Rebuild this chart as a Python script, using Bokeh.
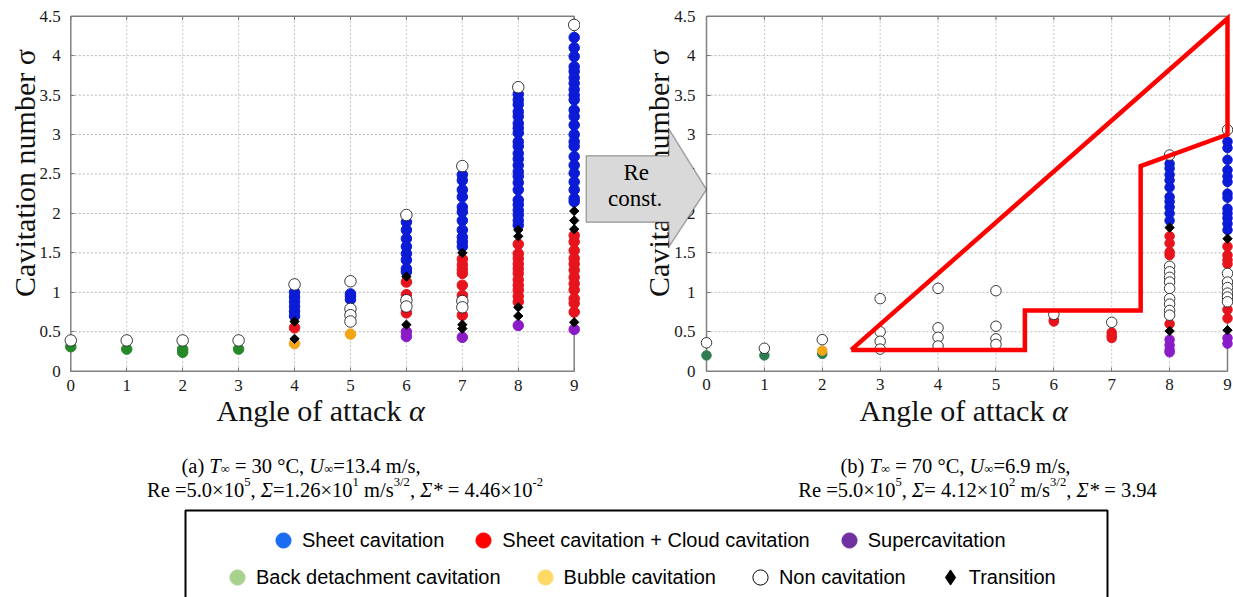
import numpy as np
from bokeh.plotting import figure
from bokeh.models import (Range1d, FixedTicker, Label, PolyAnnotation, Legend,
                          LegendItem, ColumnDataSource)
from bokeh.layouts import row, column
from bokeh.embed import file_html
from bokeh.resources import INLINE

# ---------------- data ----------------
ALPHA_TICKS = [0, 1, 2, 3, 4, 5, 6, 7, 8, 9]
SIGMA_TICKS = [0, 0.5, 1, 1.5, 2, 2.5, 3, 3.5, 4, 4.5]
SIGMA_LABELS = ["0", "0.5", "1", "1.5", "2", "2.5", "3", "3.5", "4", "4.5"]

# (a) T = 30 C  -- sigma values per angle of attack
A_NON = {0: [0.39], 1: [0.39], 2: [0.39], 3: [0.39], 4: [1.10],
         5: [1.14, 0.79, 0.71, 0.63], 6: [1.98, 0.90, 0.82],
         7: [2.60, 0.89, 0.81], 8: [3.60], 9: [4.39]}
A_BACK = {0: [0.31], 1: [0.28], 2: [0.28, 0.24], 3: [0.28]}
A_BUBBLE = {4: [0.35], 5: [0.47]}
A_SHEET = {4: [1.00, 0.94, 0.88, 0.82, 0.76, 0.70],
           5: [0.98, 0.95, 0.91],
           6: [1.89, 1.79, 1.68, 1.58, 1.49, 1.41, 1.30, 1.26],
           7: [2.49, 2.42, 2.30, 2.21, 2.08, 2.02, 1.91, 1.79, 1.70, 1.64, 1.58],
           8: [3.51, 3.44, 3.38, 3.29, 3.23, 3.14, 3.08, 3.02, 2.91, 2.85, 2.76, 2.69,
               2.61, 2.53, 2.47, 2.39, 2.30, 2.17, 2.11, 2.04, 1.98, 1.91, 1.85],
           9: [4.23, 4.10, 3.99, 3.86, 3.80, 3.72, 3.65, 3.57, 3.50, 3.44, 3.31, 3.23,
               3.12, 3.00, 2.91, 2.85, 2.72, 2.61, 2.51, 2.40, 2.30, 2.19, 2.15]}
A_CLOUD = {4: [0.55],
           6: [1.13, 0.97, 0.74],
           7: [1.42, 1.35, 1.29, 1.24, 1.09, 0.96, 0.71],
           8: [1.61, 1.49, 1.43, 1.36, 1.30, 1.24, 1.16, 1.09, 1.03, 0.95, 0.88],
           9: [1.72, 1.64, 1.53, 1.43, 1.36, 1.28, 1.19, 1.11, 1.03, 0.92, 0.86, 0.75]}
A_SUPER = {6: [0.50, 0.44], 7: [0.43], 8: [0.58], 9: [0.53]}
A_TRANS = {4: [0.63, 0.41], 6: [1.20, 0.59], 7: [1.50, 0.59, 0.54],
           8: [1.79, 1.71, 0.81, 0.70], 9: [2.03, 1.91, 1.80, 0.62]}

# (b) T = 70 C
B_NON = {0: [0.36], 1: [0.29], 2: [0.40], 3: [0.92, 0.50, 0.38, 0.28],
         4: [1.05, 0.55, 0.43, 0.32], 5: [1.02, 0.57, 0.41, 0.34], 6: [0.72], 7: [0.62],
         8: [2.74, 1.33, 1.26, 1.19, 1.13, 1.05, 0.92, 0.85, 0.77, 0.71],
         9: [3.06, 1.24, 1.13, 1.06, 0.99, 0.94, 0.88]}
B_BACK = {0: [0.20], 1: [0.20], 2: [0.22]}
B_BUBBLE = {2: [0.26]}
B_SHEET = {8: [2.63, 2.57, 2.49, 2.42, 2.33, 2.21, 2.15, 2.08, 2.00, 1.91],
           9: [2.91, 2.83, 2.68, 2.55, 2.47, 2.40, 2.25, 2.20, 2.06, 2.00, 1.94, 1.87, 1.79]}
B_CLOUD = {6: [0.65, 0.63], 7: [0.49, 0.45, 0.42],
           8: [1.71, 1.62, 1.51, 1.47, 0.60], 9: [1.58, 1.47, 1.41, 1.36, 0.78, 0.67]}
B_SUPER = {8: [0.40, 0.33, 0.27, 0.24], 9: [0.42, 0.35]}
B_TRANS = {8: [1.82, 0.51], 9: [1.68, 0.52]}

# highlighted region in (b)
B_REGION_ALPHA = [2.5, 9.0, 9.0, 7.5, 7.5, 5.5, 5.5, 2.5]
B_REGION_SIGMA = [0.27, 4.47, 3.0, 2.6, 0.77, 0.77, 0.27, 0.27]

LEGEND_ROW1 = ["Sheet cavitation", "Sheet cavitation + Cloud cavitation", "Supercavitation"]
LEGEND_ROW1_COLORS = ["#1a6cf2", "#ff0000", "#7030a0"]
LEGEND_ROW2 = ["Back detachment cavitation", "Bubble cavitation", "Non cavitation", "Transition"]
LEGEND_ROW2_COLORS = ["#a9d18e", "#ffd966", "#ffffff", "#000000"]

SERIF = "Liberation Serif"
SANS = "Liberation Sans"


def flat(d):
    xs = [k for k, v in d.items() for _ in v]
    ys = [s for v in d.values() for s in v]
    return ColumnDataSource(dict(x=xs, y=ys))


# ---------------- panels (frame = whole canvas, axes at fixed location 0) ----------------
TOP_H = 440
Y45 = 15.7      # page y of sigma = 4.5
Y0 = 370.7      # page y of sigma = 0
SY = (Y0 - Y45) / 4.5


def make_panel(width, page_left, x0px, x9px, data, colors, size_f, size_o,
               xlab_c, ylab_x, xtick_standoff, ytick_standoff):
    sx = (x9px - x0px) / 9.0
    fx = lambda px: (px - x0px) / sx
    fy = lambda py: (Y0 - py) / SY
    p = figure(width=width, height=TOP_H,
               x_range=Range1d(fx(page_left), fx(page_left + width)),
               y_range=Range1d(fy(TOP_H), fy(0)),
               output_backend="svg", toolbar_location=None, min_border=0)
    p.outline_line_color = None
    p.grid.visible = False

    for ax, ticks, standoff in ((p.xaxis[0], ALPHA_TICKS, xtick_standoff),
                                (p.yaxis[0], SIGMA_TICKS, ytick_standoff)):
        ax.fixed_location = 0
        ax.bounds = (ticks[0], ticks[-1])
        ax.ticker = FixedTicker(ticks=ticks)
        ax.axis_line_color = None
        ax.major_tick_in = 4
        ax.major_tick_out = 0
        ax.major_tick_line_color = "#7a7a7a"
        ax.minor_tick_line_color = None
        ax.major_label_text_font = SERIF
        ax.major_label_text_font_style = "normal"
        ax.major_label_text_font_size = "17px"
        ax.major_label_text_color = "#1a1a1a"
        ax.major_label_standoff = standoff
    p.yaxis[0].major_label_overrides = {t: l for t, l in zip(SIGMA_TICKS, SIGMA_LABELS)}

    a0, a1 = ALPHA_TICKS[0], ALPHA_TICKS[-1]
    s0, s1 = SIGMA_TICKS[0], SIGMA_TICKS[-1]
    # grid
    gx = ALPHA_TICKS[1:-1]
    p.segment(x0=gx, y0=[s0] * len(gx), x1=gx, y1=[s1] * len(gx),
              line_color="#c4c4c4", line_width=1, line_dash="2 2")
    gy = SIGMA_TICKS[1:-1]
    p.segment(x0=[a0] * len(gy), y0=gy, x1=[a1] * len(gy), y1=gy,
              line_color="#b4b4b4", line_width=1, line_dash="2 2")
    # box
    p.segment(x0=[a0, a0, a0, a1], y0=[s0, s1, s0, s0], x1=[a1, a1, a0, a1], y1=[s0, s1, s1, s1],
              line_color="#808080", line_width=1.5)
    # top ticks
    p.segment(x0=ALPHA_TICKS, y0=[s1] * 10, x1=ALPHA_TICKS, y1=[s1 - 4 / SY] * 10,
              line_color="#7a7a7a", line_width=1)

    non, back, bub, sheet, cloud, sup, trans = data
    p.scatter("x", "y", source=flat(back), marker="circle", size=size_f,
              fill_color=colors["back"], line_color=colors["back"])
    p.scatter("x", "y", source=flat(bub), marker="circle", size=size_f,
              fill_color=colors["bubble"], line_color=colors["bubble"])
    p.scatter("x", "y", source=flat(sup), marker="circle", size=size_f,
              fill_color=colors["super"], line_color=colors["super"])
    p.scatter("x", "y", source=flat(cloud), marker="circle", size=size_f,
              fill_color=colors["cloud"], line_color=colors["cloud"])
    p.scatter("x", "y", source=flat(sheet), marker="circle", size=size_f,
              fill_color=colors["sheet"], line_color=colors["sheet"])
    p.scatter("x", "y", source=flat(non), marker="circle", size=size_o,
              fill_color="white", line_color="#222222", line_width=0.9)
    p.scatter("x", "y", source=flat(trans), marker="square", angle=np.pi / 4, size=6.6,
              fill_color="black", line_color="black")

    # axis titles
    p.add_layout(Label(x=fx(ylab_x), y=fy(172.5), text="Cavitation number σ", angle=np.pi / 2,
                       text_align="center", text_baseline="alphabetic", text_font=SERIF,
                       text_font_size="30px", text_color="#111111"))
    w1 = 6.415 * 30
    w2 = 0.52 * 30
    start = xlab_c - (w1 + w2) / 2
    p.add_layout(Label(x=fx(start), y=fy(409.5), text="Angle of attack", text_align="left",
                       text_baseline="alphabetic", text_font=SERIF, text_font_size="30px",
                       text_color="#111111"))
    p.add_layout(Label(x=fx(start + w1), y=fy(409.5), text="α", text_align="left",
                       text_baseline="alphabetic", text_font=SERIF, text_font_style="italic",
                       text_font_size="30px", text_color="#111111"))
    return p, fx, fy


COL_A = dict(back="#25892a", bubble="#f2a516", super="#8a1cc8", cloud="#e6141c", sheet="#0b1bd6")
COL_B = dict(back="#2e7d50", bubble="#f2a516", super="#8a1cc8", cloud="#e6141c", sheet="#0b1bd6")

pa, _, _ = make_panel(580, 0, 70.3, 573.7,
                      (A_NON, A_BACK, A_BUBBLE, A_SHEET, A_CLOUD, A_SUPER, A_TRANS),
                      COL_A, 10.5, 11.5, 320, 23.5, 9, 10)
pb, bx, by = make_panel(653, 580, 706, 1227,
                        (B_NON, B_BACK, B_BUBBLE, B_SHEET, B_CLOUD, B_SUPER, B_TRANS),
                        COL_B, 9.5, 10.5, 963, 658, 8, 11)

pb.line(B_REGION_ALPHA, B_REGION_SIGMA, line_color="#ff0000", line_width=4.5, line_join="miter")

# "Re const." arrow (page coordinates converted to panel b)
ARROW_PX = [585.7, 668.3, 668.3, 706.0, 668.3, 668.3, 585.7]
ARROW_PY = [155.3, 155.3, 128.3, 189.0, 246.7, 221.7, 221.7]
pb.add_layout(PolyAnnotation(xs=[bx(v) for v in ARROW_PX], ys=[by(v) for v in ARROW_PY],
                             fill_color="#d9d9d9", fill_alpha=1, line_color="black",
                             line_width=1.5, level="overlay"))
pb.add_layout(Label(x=bx(635.8), y=by(171.5), text="Re", text_align="center",
                    text_baseline="alphabetic", text_font=SERIF, text_font_size="23px",
                    text_color="black", level="overlay"))
pb.add_layout(Label(x=bx(634.7), y=by(197.5), text="const.", text_align="center",
                    text_baseline="alphabetic", text_font=SERIF, text_font_size="23px",
                    text_color="black", level="overlay"))

# ---------------- captions + legend ----------------
BOT_H = 157
pc = figure(width=1233, height=BOT_H, x_range=Range1d(0, 1233), y_range=Range1d(597, 440),
            output_backend="svg", toolbar_location=None, x_axis_type=None, y_axis_type=None,
            min_border=0)
pc.outline_line_color = None

REG_W = {' ': 250, '(': 333, ')': 333, ',': 250, '.': 250, '/': 278, '*': 500, '+': 564,
         '=': 564, '-': 333, '°': 400, '×': 564, '∞': 713, 'Σ': 592, 'a': 444, 'b': 500,
         'c': 444, 'e': 444, 'm': 778, 'n': 500, 's': 389, 't': 278, 'o': 500, 'R': 667,
         'C': 667, 'T': 611, 'U': 722}
ITA_W = {'T': 556, 'U': 722, 'Σ': 600, '*': 500, ' ': 250}


def tw(s, italic, size):
    tot = 0
    for ch in s:
        if italic and ch in ITA_W:
            tot += ITA_W[ch]
        else:
            tot += REG_W.get(ch, 500)
    return tot / 1000.0 * size


def rich(p, segs, cx, base, size):
    items = []
    for txt, kind in segs:
        sz = size * 0.62 if kind in ("sup", "sub") else size
        items.append((txt, kind, sz, tw(txt, kind == "i", sz)))
    total = sum(i[3] for i in items)
    x = cx - total / 2
    for txt, kind, sz, w in items:
        y = base
        if kind == "sup":
            y = base - 0.37 * size
        elif kind == "sub":
            y = base + 0.15 * size
        lead = len(txt) - len(txt.lstrip(" "))
        shown = txt.strip(" ")
        if shown:
            p.add_layout(Label(x=x + tw(" " * lead, False, sz), y=y, text=shown,
                               text_align="left", text_baseline="alphabetic",
                               text_font=SERIF, text_font_size="%.1fpx" % sz,
                               text_font_style="italic" if kind == "i" else "normal",
                               text_color="black"))
        x += w


CAP = 20.5
rich(pc, [("(a) ", "n"), ("T", "i"), ("∞", "sub"), (" = 30 °C, ", "n"), ("U", "i"), ("∞", "sub"),
          ("=13.4 m/s,", "n")], 300.5, 465, CAP)
rich(pc, [("Re =5.0×10", "n"), ("5", "sup"), (", ", "n"), ("Σ", "i"), ("=1.26×10", "n"), ("1", "sup"),
          (" m/s", "n"), ("3/2", "sup"), (", ", "n"), ("Σ*", "i"), (" = 4.46×10", "n"), ("-2", "sup")],
     344.5, 489, CAP)
rich(pc, [("(b) ", "n"), ("T", "i"), ("∞", "sub"), (" = 70 °C, ", "n"), ("U", "i"), ("∞", "sub"),
          ("=6.9 m/s,", "n")], 955, 465, CAP)
rich(pc, [("Re =5.0×10", "n"), ("5", "sup"), (", ", "n"), ("Σ", "i"), ("= 4.12×10", "n"), ("2", "sup"),
          (" m/s", "n"), ("3/2", "sup"), (", ", "n"), ("Σ*", "i"), (" = 3.94", "n")],
     977, 489, CAP)

# legend frame
pc.line([185, 185, 1107, 1107], [610, 510, 510, 610], line_color="black", line_width=2)


def legend_row(labels, colors, loc, spacing):
    items = []
    for lab, col in zip(labels, colors):
        marker = "diamond" if lab == "Transition" else "circle"
        line = "black" if col in ("#ffffff", "#000000") else col
        r = pc.scatter(x=[-1000], y=[-1000], marker=marker, size=10, fill_color=col,
                       line_color=line, line_width=1)
        items.append(LegendItem(label=lab, renderers=[r]))
    leg = Legend(items=items, orientation="horizontal", location=loc, glyph_width=38,
                 glyph_height=38, label_standoff=0, spacing=spacing, padding=0, margin=0,
                 border_line_color=None, background_fill_alpha=0,
                 label_text_font=SANS, label_text_font_size="20px", label_text_color="black")
    pc.add_layout(leg, "center")


legend_row(LEGEND_ROW1, LEGEND_ROW1_COLORS, (264, 38), 20)
legend_row(LEGEND_ROW2, LEGEND_ROW2_COLORS, (218, 1), 25)

layout = column(row(pa, pb), pc)
open("out.html", "w").write(file_html(layout, INLINE))
